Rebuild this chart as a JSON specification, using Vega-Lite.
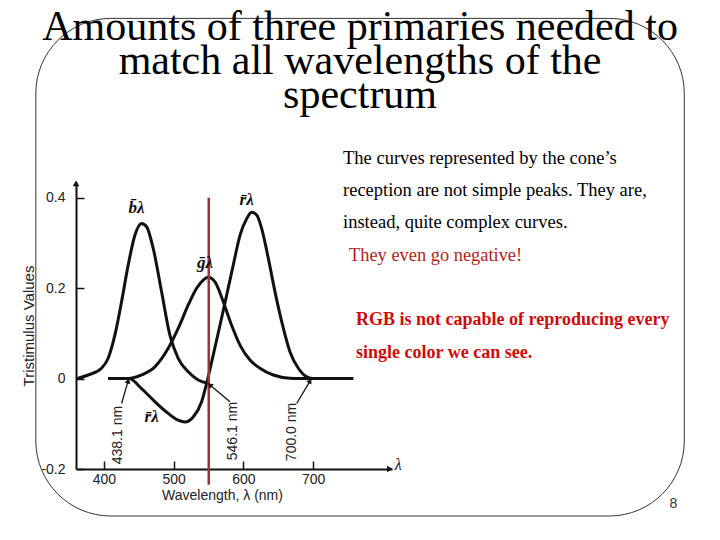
{
  "$schema": "https://vega.github.io/schema/vega-lite/v6.json",
  "width": 316,
  "height": 287,
  "autosize": {"type": "none"},
  "padding": {"left": 76, "top": 182, "right": 328, "bottom": 71},
  "background": "#ffffff",
  "config": {"view": {"stroke": null}},
  "datasets": {
    "curves": [
      {"series": "b", "wavelength": 361.7, "value": 0},
      {"series": "b", "wavelength": 377.4, "value": 0.008},
      {"series": "b", "wavelength": 396.6, "value": 0.023},
      {"series": "b", "wavelength": 406.1, "value": 0.045},
      {"series": "b", "wavelength": 415.7, "value": 0.096},
      {"series": "b", "wavelength": 425.3, "value": 0.17},
      {"series": "b", "wavelength": 434.8, "value": 0.251},
      {"series": "b", "wavelength": 444.4, "value": 0.317},
      {"series": "b", "wavelength": 454.0, "value": 0.343},
      {"series": "b", "wavelength": 461.2, "value": 0.336},
      {"series": "b", "wavelength": 470.7, "value": 0.288},
      {"series": "b", "wavelength": 482.7, "value": 0.192},
      {"series": "b", "wavelength": 494.6, "value": 0.096},
      {"series": "b", "wavelength": 506.5, "value": 0.045},
      {"series": "b", "wavelength": 520.9, "value": 0.015},
      {"series": "b", "wavelength": 535.2, "value": -0.003},
      {"series": "b", "wavelength": 548.0, "value": -0.01},
      {"series": "g", "wavelength": 406.1, "value": 0},
      {"series": "g", "wavelength": 434.8, "value": 0},
      {"series": "g", "wavelength": 454.0, "value": 0.008},
      {"series": "g", "wavelength": 473.1, "value": 0.026},
      {"series": "g", "wavelength": 492.2, "value": 0.067},
      {"series": "g", "wavelength": 506.5, "value": 0.111},
      {"series": "g", "wavelength": 520.9, "value": 0.163},
      {"series": "g", "wavelength": 532.9, "value": 0.2},
      {"series": "g", "wavelength": 542.4, "value": 0.218},
      {"series": "g", "wavelength": 549.6, "value": 0.224},
      {"series": "g", "wavelength": 559.2, "value": 0.214},
      {"series": "g", "wavelength": 571.1, "value": 0.17},
      {"series": "g", "wavelength": 583.1, "value": 0.118},
      {"series": "g", "wavelength": 595.1, "value": 0.074},
      {"series": "g", "wavelength": 609.4, "value": 0.041},
      {"series": "g", "wavelength": 623.7, "value": 0.023},
      {"series": "g", "wavelength": 642.8, "value": 0.008},
      {"series": "g", "wavelength": 666.8, "value": 0.001},
      {"series": "g", "wavelength": 700.2, "value": 0},
      {"series": "r", "wavelength": 406.1, "value": 0},
      {"series": "r", "wavelength": 436.0, "value": 0},
      {"series": "r", "wavelength": 454.0, "value": -0.022},
      {"series": "r", "wavelength": 473.1, "value": -0.051},
      {"series": "r", "wavelength": 492.2, "value": -0.077},
      {"series": "r", "wavelength": 506.5, "value": -0.092},
      {"series": "r", "wavelength": 516.1, "value": -0.096},
      {"series": "r", "wavelength": 528.0, "value": -0.085},
      {"series": "r", "wavelength": 540.1, "value": -0.051},
      {"series": "r", "wavelength": 547.5, "value": -0.009},
      {"series": "r", "wavelength": 556.7, "value": 0.052},
      {"series": "r", "wavelength": 566.4, "value": 0.118},
      {"series": "r", "wavelength": 576.0, "value": 0.185},
      {"series": "r", "wavelength": 585.4, "value": 0.251},
      {"series": "r", "wavelength": 595.1, "value": 0.317},
      {"series": "r", "wavelength": 604.7, "value": 0.354},
      {"series": "r", "wavelength": 611.8, "value": 0.368},
      {"series": "r", "wavelength": 619.0, "value": 0.362},
      {"series": "r", "wavelength": 626.2, "value": 0.332},
      {"series": "r", "wavelength": 635.7, "value": 0.266},
      {"series": "r", "wavelength": 645.3, "value": 0.192},
      {"series": "r", "wavelength": 654.9, "value": 0.126},
      {"series": "r", "wavelength": 666.8, "value": 0.059},
      {"series": "r", "wavelength": 678.7, "value": 0.023},
      {"series": "r", "wavelength": 690.7, "value": 0.004},
      {"series": "r", "wavelength": 700.2, "value": 0},
      {"series": "r", "wavelength": 757.6, "value": 0}
    ],
    "curveLabels": [
      {"label": "b̄λ", "wavelength": 446.8, "value": 0.377},
      {"label": "ḡλ", "wavelength": 544.8, "value": 0.255},
      {"label": "r̄λ", "wavelength": 604.7, "value": 0.395},
      {"label": "r̄λ", "wavelength": 468.4, "value": -0.085}
    ],
    "primaries": [
      {"label": "438.1 nm", "wavelength": 420.0, "value": -0.125, "fromW": 425.3, "fromV": -0.055, "toW": 434.8, "toV": -0.005},
      {"label": "546.1 nm", "wavelength": 585.4, "value": -0.116, "fromW": 580.7, "fromV": -0.051, "toW": 552.0, "toV": -0.014},
      {"label": "700.0 nm", "wavelength": 669.2, "value": -0.118, "fromW": 676.4, "fromV": -0.055, "toW": 695.6, "toV": -0.005}
    ]
  },
  "layer": [
    {
      "data": {"values": [{}]},
      "mark": {"type": "rect", "filled": false, "color": "#333333", "strokeWidth": 1, "cornerRadius": 75},
      "encoding": {
        "x": {"datum": 302.4},
        "x2": {"datum": 1232},
        "y": {"datum": 0.797},
        "y2": {"datum": -0.304}
      }
    },
    {
      "data": {"values": [{}]},
      "mark": {"type": "text", "font": "Liberation Serif", "fontSize": 42, "align": "center", "baseline": "alphabetic", "lineHeight": 34, "color": "#000000",
        "text": ["Amounts of three primaries needed to", "match all wavelengths of the", "spectrum"]},
      "encoding": {"x": {"datum": 767.2}, "y": {"datum": 0.749}}
    },
    {
      "data": {"name": "curves"},
      "mark": {"type": "line", "color": "#111111", "strokeWidth": 3, "interpolate": "monotone"},
      "encoding": {
        "x": {
          "field": "wavelength",
          "type": "quantitative",
          "scale": {"domain": [360, 813], "nice": false, "zero": false},
          "axis": {
            "values": [400, 500, 600, 700],
            "title": "Wavelength, λ (nm)",
            "grid": false,
            "tickSize": -8,
            "tickWidth": 1.5,
            "tickColor": "#111111",
            "labelPadding": 11,
            "labelFont": "Liberation Sans",
            "labelFontSize": 14,
            "labelColor": "#222222",
            "titleFont": "Liberation Sans",
            "titleFontSize": 14,
            "titleFontWeight": "normal",
            "titleColor": "#222222",
            "titleX": 146,
            "titlePadding": 2,
            "domainColor": "#111111",
            "domainWidth": 2
          }
        },
        "y": {
          "field": "value",
          "type": "quantitative",
          "scale": {"domain": [-0.2, 0.435], "nice": false, "zero": false},
          "axis": {
            "values": [-0.2, 0, 0.2, 0.4],
            "title": "Tristimulus Values",
            "grid": false,
            "tickSize": -8,
            "tickWidth": 1.5,
            "tickColor": "#111111",
            "labelPadding": 19,
            "labelFont": "Liberation Sans",
            "labelFontSize": 14,
            "labelColor": "#222222",
            "labelExpr": "datum.value === 0 ? '0' : replace(datum.label, '−', '-')",
            "titleFont": "Liberation Sans",
            "titleFontSize": 15,
            "titleFontWeight": "normal",
            "titleColor": "#222222",
            "titlePadding": 4,
            "domainColor": "#111111",
            "domainWidth": 2
          }
        },
        "detail": {"field": "series"}
      }
    },
    {
      "data": {"values": [{}]},
      "mark": {"type": "rule", "color": "#9a3535", "strokeWidth": 2.5},
      "encoding": {
        "x": {"datum": 550.3},
        "y": {"datum": 0.4},
        "y2": {"datum": -0.235}
      }
    },
    {
      "data": {"values": [{}]},
      "mark": {"type": "point", "shape": "triangle-up", "filled": true, "color": "#111111", "size": 45, "opacity": 1},
      "encoding": {"x": {"datum": 360}, "y": {"datum": 0.432}}
    },
    {
      "data": {"values": [{}]},
      "mark": {"type": "point", "shape": "triangle-right", "filled": true, "color": "#111111", "size": 45, "opacity": 1},
      "encoding": {"x": {"datum": 810}, "y": {"datum": -0.2}}
    },
    {
      "data": {"values": [{}]},
      "mark": {"type": "text", "text": "λ", "font": "Liberation Serif", "fontStyle": "italic", "fontSize": 16, "align": "left", "baseline": "middle", "color": "#111111"},
      "encoding": {"x": {"datum": 817}, "y": {"datum": -0.191}}
    },
    {
      "data": {"name": "curveLabels"},
      "mark": {"type": "text", "font": "Liberation Serif", "fontStyle": "italic", "fontWeight": "bold", "fontSize": 17, "align": "center", "baseline": "middle", "color": "#111111"},
      "encoding": {
        "x": {"field": "wavelength", "type": "quantitative"},
        "y": {"field": "value", "type": "quantitative"},
        "text": {"field": "label"}
      }
    },
    {
      "data": {"name": "primaries"},
      "mark": {"type": "text", "font": "Liberation Sans", "fontSize": 14, "angle": 270, "align": "center", "baseline": "middle", "color": "#222222"},
      "encoding": {
        "x": {"field": "wavelength", "type": "quantitative"},
        "y": {"field": "value", "type": "quantitative"},
        "text": {"field": "label"}
      }
    },
    {
      "data": {"name": "primaries"},
      "mark": {"type": "rule", "color": "#111111", "strokeWidth": 1.3},
      "encoding": {
        "x": {"field": "fromW", "type": "quantitative"},
        "y": {"field": "fromV", "type": "quantitative"},
        "x2": {"field": "toW"},
        "y2": {"field": "toV"}
      }
    },
    {
      "data": {"name": "primaries"},
      "mark": {"type": "point", "shape": "triangle-up", "filled": true, "color": "#111111", "size": 35, "opacity": 1},
      "encoding": {
        "x": {"field": "toW", "type": "quantitative"},
        "y": {"field": "toV", "type": "quantitative"},
        "angle": {
          "condition": [
            {"test": "datum.label === '438.1 nm'", "value": 16},
            {"test": "datum.label === '546.1 nm'", "value": -50}
          ],
          "value": 30
        }
      }
    },
    {
      "data": {"values": [{}]},
      "mark": {"type": "text", "font": "Liberation Serif", "fontSize": 18.5, "align": "left", "baseline": "alphabetic", "lineHeight": 32, "color": "#000000",
        "text": ["The curves represented by the cone’s", "reception are not simple peaks. They are,", "instead, quite complex curves."]},
      "encoding": {"x": {"datum": 742.8}, "y": {"datum": 0.4746}}
    },
    {
      "data": {"values": [{}]},
      "mark": {"type": "text", "font": "Liberation Serif", "fontSize": 18.4, "align": "left", "baseline": "alphabetic", "color": "#b01e1e", "text": "They even go negative!"},
      "encoding": {"x": {"datum": 751.4}, "y": {"datum": 0.2606}}
    },
    {
      "data": {"values": [{}]},
      "mark": {"type": "text", "font": "Liberation Serif", "fontSize": 18, "fontWeight": "bold", "align": "left", "baseline": "alphabetic", "lineHeight": 33, "color": "#cc0c0c",
        "text": ["RGB is not capable of reproducing every", "single color we can see."]},
      "encoding": {"x": {"datum": 761.5}, "y": {"datum": 0.1184}}
    },
    {
      "data": {"values": [{}]},
      "mark": {"type": "text", "text": "8", "font": "Liberation Sans", "fontSize": 14, "align": "center", "baseline": "middle", "color": "#333333"},
      "encoding": {"x": {"datum": 1216.3}, "y": {"datum": -0.278}}
    }
  ]
}
